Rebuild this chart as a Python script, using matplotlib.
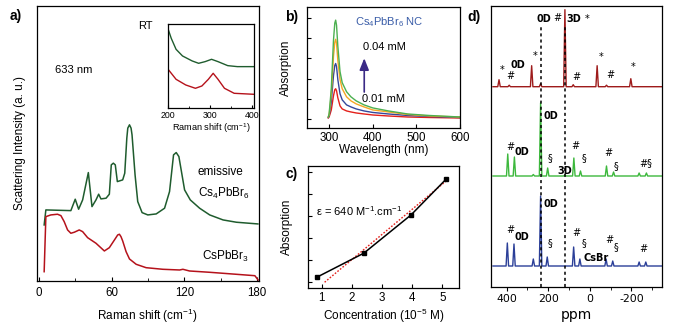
import matplotlib
matplotlib.use("Agg")
import matplotlib.pyplot as plt
from matplotlib.ticker import MultipleLocator, FixedLocator, NullFormatter

plt.rcParams.update({
    "font.family": ["Liberation Sans", "DejaVu Sans"],
    "mathtext.fontset": "custom",
    "mathtext.rm": "Liberation Sans",
    "mathtext.it": "Liberation Sans:italic",
    "mathtext.bf": "Liberation Sans:bold",
    "axes.unicode_minus": False,
    "axes.linewidth": 0.9,
})

# ---------------- data ----------------
# (a) Raman spectra, 633 nm excitation
raman_cs4_x = [4.4, 5.8, 26.4, 30.0, 32.8, 36.1, 40.8, 43.8, 47.1, 49.3, 51.2, 55.4, 58.1,
               59.7, 61.4, 63.0, 64.7, 69.1, 70.8, 72.5, 73.3, 74.7, 76.0, 76.8, 79.3,
               81.5, 85.1, 89.8, 96.7, 103.6, 107.7, 111.0, 113.2, 115.4, 120.1, 124.8,
               132.5, 140.8, 151.8, 162.8, 180.5]
raman_cs4_y = [56, 71, 70.3, 81.7, 71.7, 81, 108.3, 74.3, 81, 86.7, 82, 82.7, 86.7,
               116, 117.7, 116, 99.3, 101, 107.7, 142.7, 152.7, 156, 152.7, 146, 106,
               79.3, 68.3, 66, 67, 72.7, 89.3, 126, 128.3, 124.3, 91, 81,
               72.7, 66, 61, 58.7, 57]
raman_csp_x = [4.4, 5.8, 9.9, 15.4, 18.2, 20.9, 23.7, 26.4, 29.2, 33.3, 36.1, 40.2, 47.1,
               54.0, 58.1, 62.3, 65.0, 66.4, 67.7, 69.1, 71.9, 74.7, 80.2, 88.4, 102.2,
               116.0, 118.7, 124.2, 140.8, 162.8, 178.0, 180.7]
raman_csp_y = [9.3, 64.3, 66, 66.7, 65.3, 59.3, 51, 47.7, 48.7, 51, 49.3, 43.3, 37.7,
               30, 33.3, 41, 46, 46.7, 44.3, 40, 29.3, 22, 16.7, 13.3, 11.7,
               11, 11.7, 10, 8.7, 6.7, 5.3, 1]
# (a, inset) high-frequency Raman region
inset_x = [201.5, 207.7, 219.2, 234.6, 257.7, 273.0, 288.5, 303.8, 319.2, 342.3, 365.4, 405.0]
inset_cs4_y = [233, 210, 177, 157, 142, 135, 140, 147, 140, 128, 125, 125]
inset_csp_x = [201.5, 219.2, 242.3, 265.4, 280.8, 296.2, 307.7, 319.2, 334.6, 357.7, 405.0]
inset_csp_y = [115, 87, 70, 60, 67, 87, 105, 87, 60, 45, 42]

# (b) absorption spectra of Cs4PbBr6 NC, 0.01 -> 0.04 mM
wavelength = [298, 300, 305, 310, 313, 315, 317, 320, 325, 330, 340, 350, 362, 380, 400,
              436, 480, 530, 600]
abs_001 = [0.01, 0.02, 0.09, 0.23, 0.29, 0.30, 0.28, 0.21, 0.13, 0.10, 0.08, 0.07, 0.06,
           0.05, 0.04, 0.03, 0.02, 0.015, 0.01]
abs_002 = [0.015, 0.03, 0.17, 0.43, 0.53, 0.55, 0.52, 0.39, 0.25, 0.19, 0.14, 0.12, 0.10,
           0.08, 0.065, 0.05, 0.035, 0.025, 0.015]
abs_003 = [0.02, 0.04, 0.24, 0.62, 0.76, 0.79, 0.75, 0.58, 0.39, 0.30, 0.22, 0.18, 0.15,
           0.12, 0.09, 0.07, 0.045, 0.03, 0.02]
abs_004 = [0.02, 0.05, 0.30, 0.78, 0.95, 0.98, 0.93, 0.72, 0.47, 0.36, 0.27, 0.22, 0.18,
           0.14, 0.11, 0.08, 0.05, 0.035, 0.02]

# (c) Beer-Lambert plot
concentration = [0.86, 2.4, 3.96, 5.12]        # 10^-5 M
absorbance = [0.024, 0.132, 0.305, 0.467]
fit_conc = [1.1, 5.15]
fit_abs = [0.0, 0.462]

# (d) 133Cs MAS NMR: peak positions (ppm) and heights
nmr_top_ppm = [437, 388, 280, 237, 120, 80, -35, -80, -197]
nmr_top_h = [7, 1.5, 21, 3, 77, 2, 21, 1.5, 8]
nmr_mid_ppm = [395, 363, 272, 237, 203, 120, 77, 45, -80, -114, -237, -272]
nmr_mid_h = [22, 19, 1.5, 73, 8, 1, 18, 5, 10, 4, 3, 3]
nmr_bot_ppm = [397, 365, 272, 237, 205, 78, 48, -78, -110, -237, -269]
nmr_bot_h = [23, 22, 7, 70, 9, 19, 7, 7, 5, 4, 4]
nmr_0d_ppm = 237
nmr_3d_ppm = 120

# ---------------- layout helpers ----------------
W, H = 680, 327
fig = plt.figure(figsize=(W / 100, H / 100), dpi=100)


def rect(l, t, r, b):
    return [l / W, 1 - b / H, (r - l) / W, (b - t) / H]


def ftext(x, y, s, **kw):
    kw.setdefault("ha", "center")
    kw.setdefault("va", "center")
    return fig.text(x / W, 1 - y / H, s, **kw)


# ---------------- (a) ----------------
ax_a = fig.add_axes(rect(37, 5.7, 258.5, 281))
ax_a.plot(raman_cs4_x, raman_cs4_y, color="#1f5c2e", lw=1.1)
ax_a.plot(raman_csp_x, raman_csp_y, color="#b5121b", lw=1.1)
ax_a.set_xlim(-1.5, 181)
ax_a.set_ylim(0, 275)
ax_a.set_yticks([])
ax_a.xaxis.set_major_locator(MultipleLocator(60))
ax_a.xaxis.set_minor_locator(MultipleLocator(30))
ax_a.tick_params(axis="x", which="both", direction="in", labelsize=8.3, pad=4)
ax_a.tick_params(axis="x", which="major", length=3)
ax_a.tick_params(axis="x", which="minor", length=2)
ax_a.set_xlabel("Raman shift (cm$^{-1}$)", fontsize=8.5, labelpad=6)
ax_a.set_ylabel("Scattering Intensity (a. u.)", fontsize=8.5, labelpad=8)
ftext(74, 70, "633 nm", fontsize=8)
ftext(145, 26, "RT", fontsize=8)
ftext(198, 172, "emissive", fontsize=8.5, ha="left")
ftext(198, 193, "Cs$_4$PbBr$_6$", fontsize=8.5, ha="left")
ftext(202, 256, "CsPbBr$_3$", fontsize=8.5, ha="left")
ftext(16, 16, "a)", fontsize=10, fontweight="bold")

ax_in = fig.add_axes(rect(168, 24.3, 254, 108.3))
ax_in.plot(inset_x, inset_cs4_y, color="#1f5c2e", lw=1.0)
ax_in.plot(inset_csp_x, inset_csp_y, color="#b5121b", lw=1.0)
ax_in.set_xlim(200, 405)
ax_in.set_ylim(0, 252)
ax_in.set_yticks([])
ax_in.xaxis.set_major_locator(MultipleLocator(100))
ax_in.xaxis.set_minor_locator(MultipleLocator(50))
ax_in.tick_params(axis="x", which="both", direction="in", labelsize=6.3, pad=2)
ax_in.tick_params(axis="x", which="major", length=2.5)
ax_in.tick_params(axis="x", which="minor", length=1.5)
ax_in.set_xlabel("Raman shift (cm$^{-1}$)", fontsize=6.6, labelpad=1)

# ---------------- (b) ----------------
ax_b = fig.add_axes(rect(307.3, 6.5, 460, 128.3))
ax_b.plot(wavelength, abs_001, color="#e3201b", lw=1.0)
ax_b.plot(wavelength, abs_002, color="#34479a", lw=1.0)
ax_b.plot(wavelength, abs_003, color="#f5a623", lw=1.0)
ax_b.plot(wavelength, abs_004, color="#4cb050", lw=1.0)
ax_b.set_xlim(250, 600)
ax_b.set_ylim(-0.092, 1.115)
ax_b.yaxis.set_major_locator(MultipleLocator(0.2))
ax_b.yaxis.set_major_formatter(NullFormatter())
ax_b.xaxis.set_major_locator(MultipleLocator(100))
ax_b.tick_params(direction="in", labelsize=8.3, length=3, pad=3)
ax_b.set_xlabel("Wavelength (nm)", fontsize=8.5, labelpad=0)
ax_b.set_ylabel("Absorption", fontsize=8.5, labelpad=8)
ax_b.annotate("", xy=(380.5, 0.63), xytext=(380.5, 0.24),
              arrowprops=dict(arrowstyle="-|>,head_length=0.7,head_width=0.28",
                              color="#3b2a86", lw=1.2))
ftext(389, 22, "Cs$_4$PbBr$_6$ NC", fontsize=8, color="#3a5da8")
ftext(384, 46.5, "0.04 mM", fontsize=8)
ftext(384, 99.5, "0.01 mM", fontsize=8)
ftext(292, 17, "b)", fontsize=10, fontweight="bold")

# ---------------- (c) ----------------
ax_c = fig.add_axes(rect(308, 166, 459, 288))
ax_c.plot(fit_conc, fit_abs, color="#e3201b", lw=1.0, ls=(0, (1.2, 1.2)))
ax_c.plot(concentration, absorbance, color="black", lw=1.1, marker="s", ms=3.2)
ax_c.set_xlim(0.55, 5.55)
ax_c.set_ylim(-0.026, 0.527)
ax_c.xaxis.set_major_locator(MultipleLocator(1))
ax_c.yaxis.set_major_locator(MultipleLocator(0.1))
ax_c.yaxis.set_major_formatter(NullFormatter())
ax_c.tick_params(direction="in", labelsize=8.3, length=3, pad=3)
ax_c.set_xlabel("Concentration (10$^{-5}$ M)", fontsize=8.5, labelpad=2)
ax_c.set_ylabel("Absorption", fontsize=8.5, labelpad=8)
ftext(359, 211, "ε = 640 M$^{-1}$.cm$^{-1}$", fontsize=8)
ftext(292, 174, "c)", fontsize=10, fontweight="bold")


# ---------------- (d) ----------------
def stick_spectrum(centres, heights, hi=466, lo=-344, half_width=6):
    xs, ys = [hi], [0.0]
    for c, h in sorted(zip(centres, heights), reverse=True):
        xs += [c + half_width, c, c - half_width]
        ys += [0.0, h, 0.0]
    xs.append(lo)
    ys.append(0.0)
    return xs, ys


ax_d = fig.add_axes(rect(490.7, 5.7, 662, 286.7))
offsets = {"top": 200, "mid": 110.7, "bot": 20.7}
for ppm, h, col, key in [(nmr_top_ppm, nmr_top_h, "#9e1b1b", "top"),
                         (nmr_mid_ppm, nmr_mid_h, "#3db83d", "mid"),
                         (nmr_bot_ppm, nmr_bot_h, "#2b3f98", "bot")]:
    xs, ys = stick_spectrum(ppm, h)
    ax_d.plot(xs, [y + offsets[key] for y in ys], color=col, lw=1.0)
ax_d.set_xlim(477, -347)
ax_d.set_ylim(0, 281)
for pos in (nmr_0d_ppm, nmr_3d_ppm):
    ax_d.axvline(pos, ymin=0, ymax=0.931, color="black", lw=1.1, ls=(0, (2, 2)))
ax_d.set_yticks([])
ax_d.xaxis.set_major_locator(FixedLocator([400, 200, 0, -200]))
ax_d.xaxis.set_minor_locator(FixedLocator([300, 100, -100, -300]))
ax_d.tick_params(axis="x", which="both", direction="out", labelsize=7.8, pad=2)
ax_d.tick_params(axis="x", which="major", length=3)
ax_d.tick_params(axis="x", which="minor", length=2)
for lab in ax_d.get_xticklabels():
    lab.set_family("DejaVu Sans")
ax_d.set_xlabel("ppm", fontsize=10, family="DejaVu Sans", labelpad=3)
ftext(474, 17, "d)", fontsize=10, fontweight="bold")

dj = dict(family="DejaVu Sans", fontsize=7)
djb = dict(family="DejaVu Sans", fontsize=7, fontweight="bold")
# top trace annotations
ftext(544, 19, "0D", **djb)
ftext(557, 18, "#", **dj)
ftext(574, 19, "3D", **djb)
ftext(587.5, 19, "*", **dj)
ftext(501.7, 70, "*", **dj)
ftext(510.7, 76, "#", **dj)
ftext(518, 65, "0D", **djb)
ftext(535, 56, "*", **dj)
ftext(576.7, 77, "#", **dj)
ftext(600.7, 57, "*", **dj)
ftext(610, 75, "#", **dj)
ftext(633.3, 67, "*", **dj)
# middle trace annotations
ftext(551, 115.7, "0D", **djb)
ftext(510, 147, "#", **dj)
ftext(522, 151.7, "0D", **djb)
ftext(550, 157.7, "§", **dj)
ftext(565, 171, "3D", **djb)
ftext(575, 146, "#", **dj)
ftext(584, 158, "§", **dj)
ftext(608.7, 153.3, "#", **dj)
ftext(615.7, 165.7, "§", **dj)
ftext(645.7, 163.3, "#§", **dj)
# bottom trace annotations
ftext(551, 204, "0D", **djb)
ftext(510.7, 230, "#", **dj)
ftext(522, 236.7, "0D", **djb)
ftext(550, 243.3, "§", **dj)
ftext(576, 232.7, "#", **dj)
ftext(584.3, 243.3, "§", **dj)
ftext(596, 258.3, "CsBr", **djb)
ftext(609.3, 240, "#", **dj)
ftext(616, 246.7, "§", **dj)
ftext(643.3, 249.3, "#", **dj)

fig.savefig("out.png", dpi=100)
